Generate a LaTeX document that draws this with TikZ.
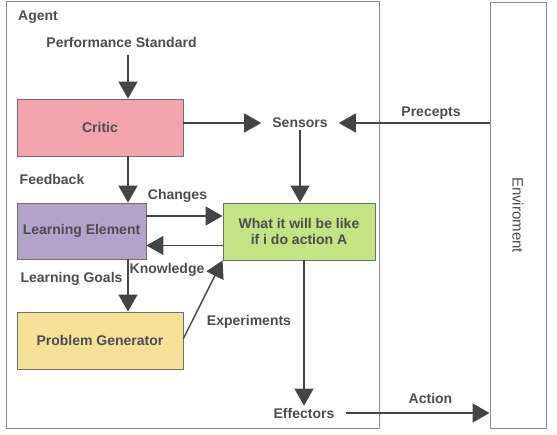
\documentclass[tikz,border=0pt]{standalone}
\usepackage{fontspec}
\setmainfont{Liberation Sans}
\usetikzlibrary{arrows.meta}
\definecolor{txtgray}{HTML}{4D4D4D}
\definecolor{arrowgray}{HTML}{444444}
\definecolor{framegray}{HTML}{8C8C8C}
\definecolor{boxgray}{HTML}{707070}
\definecolor{criticpink}{HTML}{F2A3AB}
\definecolor{learnpurple}{HTML}{B3A3C9}
\definecolor{modelgreen}{HTML}{C3E384}
\definecolor{problemyellow}{HTML}{F6E199}

\begin{document}
\begin{tikzpicture}[x=1pt, y=-1pt,
  every node/.style={text=txtgray, font=\fontsize{14}{16.5}\selectfont\bfseries},
  frame/.style={rectangle, draw=framegray, line width=1pt},
  unit/.style={rectangle, draw=boxgray, line width=0.9pt, align=center},
  lbl/.style={inner sep=2pt},
  port/.style={inner xsep=11pt, inner ysep=2pt},
  flow/.style={draw=arrowgray, line width=1.4pt, -{Triangle[width=19pt, length=17pt]}}]
\useasboundingbox (0,0) rectangle (557,435);

\node[frame, minimum width=373, minimum height=427] (agent) at (192.5,215.5) {};
\node[frame, minimum width=56, minimum height=426] (env) at (518,216) {};
\node[rotate=-90, font=\fontsize{15}{17}\selectfont] (envlbl) at (518,215) {Enviroment};

\node[lbl, anchor=west] (agentlbl) at (16,17) {Agent};
\node[lbl] (perf) at (121.5,43) {Performance Standard};
\coordinate (spine) at (128,0);

\node[unit, fill=criticpink, minimum width=166, minimum height=57] (critic) at (100,127.5) {Critic};
\node[unit, fill=learnpurple, minimum width=129, minimum height=56] (learn) at (81.5,231) {Learning Element};
\node[unit, fill=problemyellow, minimum width=166, minimum height=57] (problem) at (100,340.5) {Problem Generator};
\node[unit, fill=modelgreen, minimum width=152, minimum height=57] (model) at (299,231.5) {What it will be like\\if i do action A};

\node[port] (sensors) at (300,123) {Sensors};
\node[port] (effectors) at (304,413) {Effectors};

\node[lbl] (feedback) at (52,179) {Feedback};
\node[lbl] (changes) at (177.5,196) {Changes};
\node[lbl] (knowledge) at (167,270) {Knowledge};
\node[lbl] (goals) at (71.5,279) {Learning Goals};
\node[lbl] (experiments) at (249,322) {Experiments};
\node[lbl] (precepts) at (431,113) {Precepts};
\node[lbl] (action) at (430.5,398) {Action};

\draw[flow, shorten <=5pt] (perf.south -| spine) -- (critic.north -| spine);
\draw[flow] (critic.east |- sensors.west) -- (sensors.west);
\draw[flow] (env.west |- sensors.east) -- (sensors.east);
\draw[flow] (sensors.south) -- (sensors.south |- model.north);
\draw[flow] (critic.south -| spine) -- (learn.north -| spine);
\draw[flow] ([yshift=15pt]learn.east) -- ([yshift=15pt]learn.east -| model.west);
\draw[flow] ([yshift=-14pt]model.west) -- ([yshift=-14pt]model.west -| learn.east);
\draw[flow] (learn.south -| spine) -- (problem.north -| spine);
\draw[flow] ([yshift=2pt]problem.east) -- (model.south west);
\draw[flow] (model.south -| effectors) -- (effectors.north);
\draw[flow] (effectors.east) -- (effectors.east -| env.west);
\end{tikzpicture}
\end{document}
